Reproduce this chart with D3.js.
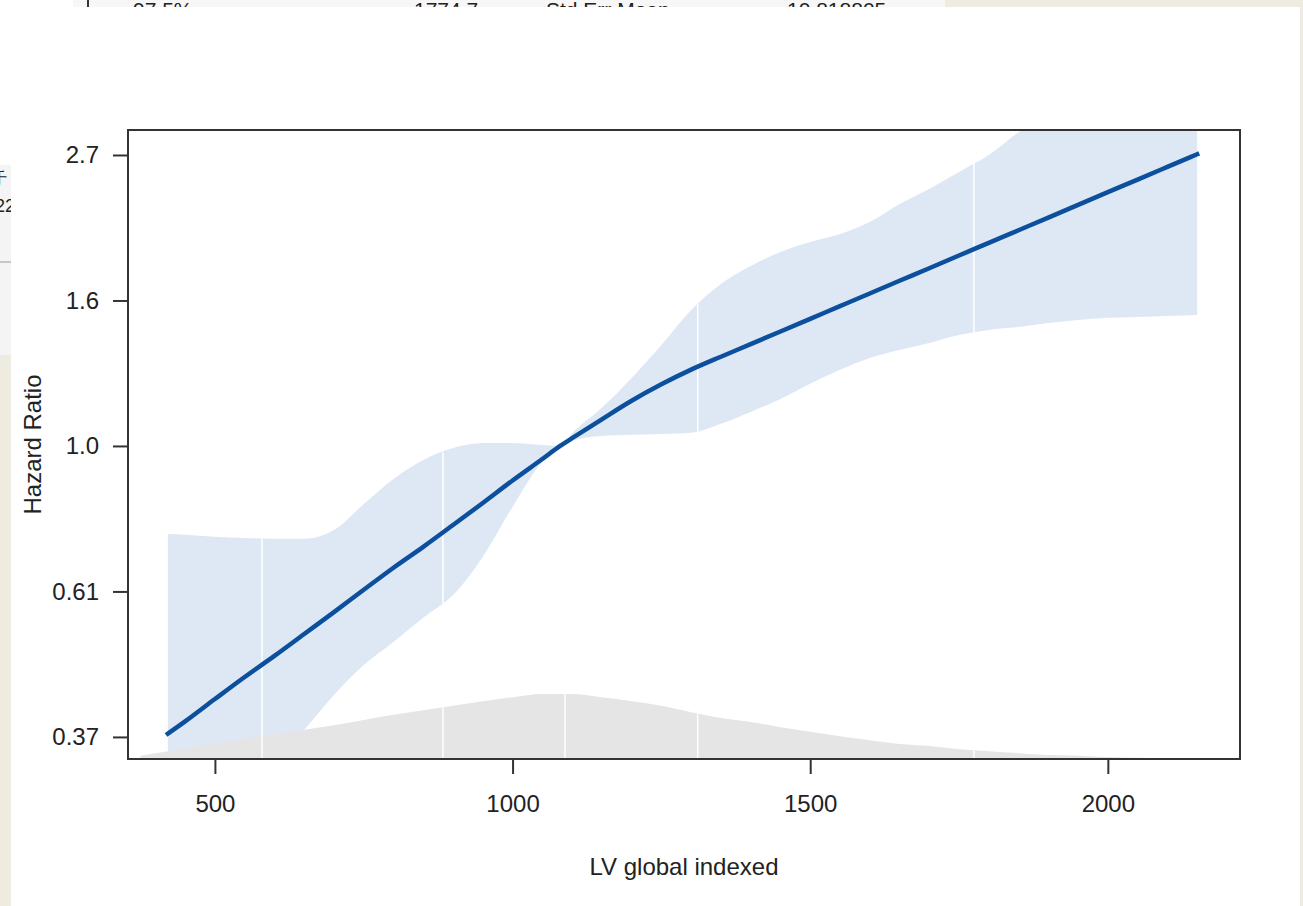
<!DOCTYPE html>
<html>
<head>
<meta charset="utf-8">
<script src="https://cdn.jsdelivr.net/npm/d3@7"></script>
<style>
  body { margin: 0; background: #eeebe0; }
  svg { display: block; }
  text { font-family: "Liberation Sans", Arial, sans-serif; fill: #222; }
</style>
</head>
<body>
<svg id="chart" width="1303" height="906"></svg>
<script>
// LV global indexed grid where the spline was evaluated
var xGrid = [421, 450, 500, 550, 600, 650, 700, 750, 800, 850, 900, 950, 1000, 1050, 1080,
  1100, 1150, 1200, 1250, 1300, 1350, 1400, 1450, 1500, 1550, 1600, 1650, 1700, 1750,
  1800, 1850, 1900, 1950, 2000, 2050, 2100, 2150];
var hazard = [0.372, 0.388, 0.419, 0.452, 0.486, 0.524, 0.565, 0.610, 0.658, 0.707, 0.762, 0.822, 0.888, 0.956, 1.000,
  1.027, 1.096, 1.168, 1.236, 1.300, 1.359, 1.419, 1.482, 1.548, 1.617, 1.689, 1.764, 1.842, 1.924,
  2.010, 2.099, 2.192, 2.290, 2.392, 2.498, 2.609, 2.725];
var upper = [0.739, 0.737, 0.732, 0.729, 0.727, 0.727, 0.749, 0.819, 0.893, 0.953, 0.993, 1.010, 1.010, 1.003, 1.000,
  1.045, 1.140, 1.263, 1.415, 1.596, 1.745, 1.856, 1.948, 2.016, 2.072, 2.159, 2.297, 2.419, 2.564,
  2.718, 2.940, 3.15, 3.35, 3.57, 3.79, 4.04, 4.29];
var lower = [0.230, 0.244, 0.273, 0.305, 0.338, 0.377, 0.425, 0.471, 0.510, 0.554, 0.599, 0.683, 0.811, 0.947, 1.000,
  1.018, 1.035, 1.039, 1.042, 1.046, 1.079, 1.124, 1.175, 1.238, 1.299, 1.353, 1.391, 1.425, 1.464,
  1.490, 1.505, 1.526, 1.542, 1.553, 1.558, 1.563, 1.569];

// distribution of the predictor (relative density)
var densX = [375, 421, 500, 550, 600, 650, 700, 750, 800, 850, 900, 950, 1000, 1050, 1100, 1150, 1200,
  1250, 1300, 1350, 1400, 1450, 1500, 1550, 1600, 1650, 1700, 1750, 1800, 1850, 1900, 1950, 2000,
  2050, 2100, 2222];
var densY = [0.05, 0.12, 0.24, 0.31, 0.38, 0.45, 0.52, 0.60, 0.68, 0.75, 0.82, 0.89, 0.95, 1.00, 1.00, 0.95, 0.89,
  0.82, 0.72, 0.63, 0.57, 0.49, 0.42, 0.35, 0.29, 0.23, 0.20, 0.15, 0.12, 0.09, 0.06, 0.05, 0.03,
  0.02, 0.015, 0.015];

// quantile markers (2.5%, 25%, 50%, 75%, 97.5%)
var quantiles = [579, 883, 1088, 1311, 1775];

var xTicks = [500, 1000, 1500, 2000];
var yTicks = [Math.exp(-1), Math.exp(-0.5), 1, Math.exp(0.5), Math.exp(1)];
var yTickLabels = ["0.37", "0.61", "1.0", "1.6", "2.7"];

var svg = d3.select("#chart");
var W = 1303, H = 906;

// window chrome around the graphics device
svg.append("rect").attr("width", W).attr("height", H).attr("fill", "#eeebe0");
svg.append("rect").attr("x", 11).attr("y", 7).attr("width", 1289).attr("height", H - 7).attr("fill", "#ffffff");
svg.append("rect").attr("x", 0).attr("y", 0).attr("width", 11).attr("height", 165).attr("fill", "#ffffff");
svg.append("rect").attr("x", 11).attr("y", 0).attr("width", 62).attr("height", 7).attr("fill", "#ffffff");
svg.append("rect").attr("x", 73).attr("y", 0).attr("width", 872).attr("height", 7).attr("fill", "#f7f7f7");
svg.append("rect").attr("x", 0).attr("y", 165).attr("width", 11).attr("height", 190).attr("fill", "#f4f4f4");
svg.append("line").attr("x1", 0).attr("x2", 11).attr("y1", 262).attr("y2", 262).attr("stroke", "#9a9a9a");

var defs = svg.append("defs");
defs.append("clipPath").attr("id", "topclip").append("rect")
  .attr("x", 73).attr("y", 0).attr("width", 872).attr("height", 7);
defs.append("clipPath").attr("id", "leftclip").append("rect")
  .attr("x", 0).attr("y", 165).attr("width", 11).attr("height", 190);

var topStrip = svg.append("g").attr("clip-path", "url(#topclip)");
topStrip.append("line").attr("x1", 88).attr("x2", 88).attr("y1", 0).attr("y2", 7).attr("stroke", "#333").attr("stroke-width", 2);
[["97.5%", 133], ["1774.7", 414], ["Std Err Mean", 546], ["10.818805", 787]].forEach(function(d) {
  topStrip.append("text").attr("x", d[1]).attr("y", 17).style("font-size", "21px").text(d[0]);
});
var leftStrip = svg.append("g").attr("clip-path", "url(#leftclip)");
leftStrip.append("text").attr("x", -8).attr("y", 183).style("font-size", "15px").text("千");
leftStrip.append("text").attr("x", -5).attr("y", 212).style("font-size", "18px").text("22");

// plot region
var pLeft = 128, pRight = 1240, pTop = 130, pBottom = 759;

var x = d3.scaleLinear().domain([354, 2222]).range([pLeft, pRight]);
var y = d3.scaleLog().domain([0.341, 2.962]).range([pBottom, pTop]);
var yDens = d3.scaleLinear().domain([0, 1]).range([pBottom, pBottom - 65]);
var upperAt = d3.scaleLinear().domain(xGrid).range(upper);

defs.append("clipPath").attr("id", "plotclip").append("rect")
  .attr("x", pLeft).attr("y", pTop).attr("width", pRight - pLeft).attr("height", pBottom - pTop);

var rows = xGrid.map(function(v, i) { return { x: v, hr: hazard[i], lo: lower[i], hi: upper[i] }; });
var dens = densX.map(function(v, i) { return { x: v, d: densY[i] }; });

var plot = svg.append("g").attr("clip-path", "url(#plotclip)");

plot.append("path")
  .datum(rows)
  .attr("fill", "#dee8f5")
  .attr("d", d3.area()
    .curve(d3.curveMonotoneX)
    .x(function(d) { return x(d.x); })
    .y0(function(d) { return y(d.lo); })
    .y1(function(d) { return y(d.hi); }));

plot.append("path")
  .datum(dens)
  .attr("fill", "#e5e5e5")
  .attr("d", d3.area()
    .curve(d3.curveMonotoneX)
    .x(function(d) { return x(d.x); })
    .y0(pBottom)
    .y1(function(d) { return yDens(d.d); }));

plot.selectAll("line.q")
  .data(quantiles)
  .enter().append("line")
  .attr("class", "q")
  .attr("x1", function(d) { return x(d); })
  .attr("x2", function(d) { return x(d); })
  .attr("y1", function(d) { return y(upperAt(d)); })
  .attr("y2", pBottom)
  .attr("stroke", "#ffffff")
  .attr("stroke-width", 1.5);

plot.append("path")
  .datum(rows)
  .attr("fill", "none")
  .attr("stroke", "#0b4f9d")
  .attr("stroke-width", 4.5)
  .attr("stroke-linecap", "square")
  .attr("d", d3.line()
    .curve(d3.curveMonotoneX)
    .x(function(d) { return x(d.x); })
    .y(function(d) { return y(d.hr); }));

// axes
var xAxis = svg.append("g")
  .attr("transform", "translate(0," + pBottom + ")")
  .call(d3.axisBottom(x).tickValues(xTicks).tickFormat(d3.format("d")).tickSize(15).tickPadding(21));

var yAxis = svg.append("g")
  .attr("transform", "translate(" + pLeft + ",0)")
  .call(d3.axisLeft(y).tickValues(yTicks).tickFormat(function(d, i) { return yTickLabels[i]; }).tickSize(15).tickPadding(14));

[xAxis, yAxis].forEach(function(g) {
  g.select(".domain").remove();
  g.selectAll(".tick line").attr("stroke", "#333").attr("stroke-width", 2);
  g.selectAll(".tick text")
    .attr("fill", "#222")
    .style("font-family", "'Liberation Sans', Arial, sans-serif")
    .style("font-size", "24px");
});

svg.append("rect")
  .attr("x", pLeft).attr("y", pTop)
  .attr("width", pRight - pLeft).attr("height", pBottom - pTop)
  .attr("fill", "none").attr("stroke", "#333").attr("stroke-width", 2);

svg.append("text")
  .attr("x", (pLeft + pRight) / 2)
  .attr("y", 875)
  .attr("text-anchor", "middle")
  .style("font-size", "24px")
  .text("LV global indexed");

svg.append("text")
  .attr("transform", "translate(41," + (pTop + pBottom) / 2 + ") rotate(-90)")
  .attr("text-anchor", "middle")
  .style("font-size", "24px")
  .text("Hazard Ratio");
</script>
</body>
</html>
